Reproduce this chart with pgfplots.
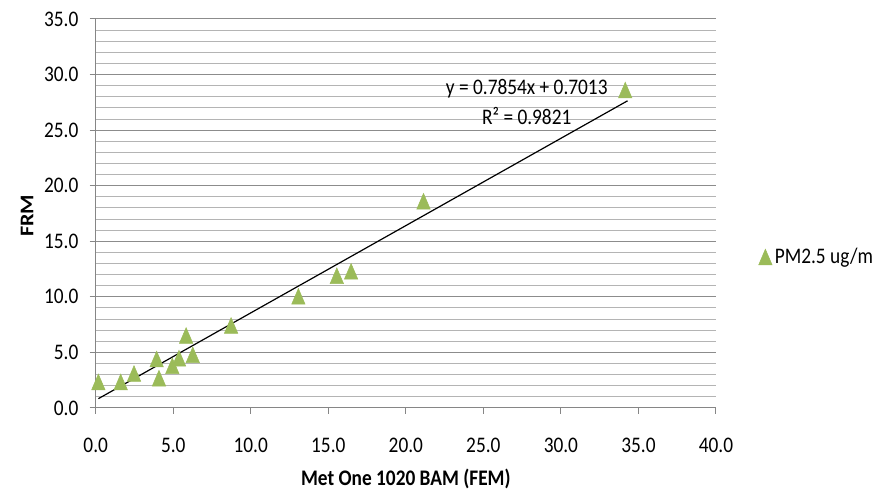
\documentclass[border=0pt]{standalone}
\usepackage{pgfplots}
\pgfplotsset{compat=1.18}
\usepackage{fontspec}
\setmainfont{Carlito}
\newcommand\cf{\fontsize{14.5pt}{17pt}\selectfont}
\definecolor{mkgreen}{RGB}{155,187,89}
\definecolor{majgrid}{RGB}{140,140,140}
\definecolor{mingrid}{RGB}{180,180,180}
\definecolor{axgray}{RGB}{134,134,134}
\begin{document}
\begin{tikzpicture}
\begin{axis}[
  at={(0,0)}, anchor=south west,
  scale only axis, width=465.2pt, height=291.75pt,
  xmin=0, xmax=40, ymin=0, ymax=35,
  xtick={0,5,...,40}, ytick={0,5,...,35},
  minor y tick num=4,
  ymajorgrids, yminorgrids,
  major grid style={draw=majgrid, line width=0.75pt},
  minor grid style={draw=mingrid, line width=0.75pt},
  axis x line=bottom, axis y line=left,
  axis line style={-, draw=axgray, line width=0.75pt},
  tick align=outside, major tick length=4.5pt, minor tick length=0pt,
  tick style={draw=axgray, line width=0.75pt},
  /pgf/number format/assume math mode=true,
  /pgf/number format/.cd, fixed, fixed zerofill, precision=1, /pgfplots/.cd,
  tick label style={font=\cf, yscale=1.15},
  xticklabel style={yshift=-12pt},
  yticklabel style={xshift=-5pt},
  xlabel={\textbf{Met One 1020 BAM (FEM)}},
  ylabel={\textbf{FRM}},
  xlabel style={font=\cf, yscale=1.15, at={(axis description cs:0.5,-0.183)}, anchor=center},
  ylabel style={font=\cf, xscale=1.15, at={(axis description cs:-0.1107,0.494)}, anchor=center},
  legend style={at={(axis description cs:1.0685,0.388)}, anchor=west, draw=none, fill=none, inner sep=0pt, font=\cf, nodes={yscale=1.15}},
  legend image code/.code={\draw[#1] plot coordinates {(0pt,0pt)};},
  clip=false,
]
\addplot[only marks, mark=triangle*, mark size=5.8pt, color=mkgreen,
  mark options={fill=mkgreen, draw=mkgreen, yshift=-1.96pt, yscale=1.35}]
  coordinates {
  (0.17,2.34) (1.61,2.34) (2.47,3.1) (3.93,4.4) (4.08,2.68) (4.94,3.79)
  (5.37,4.48) (5.83,6.52) (6.26,4.78) (8.73,7.42) (13.07,10.04)
  (15.55,11.9) (16.47,12.29) (21.14,18.6) (34.15,28.6)
  };
\addlegendentry{PM2.5 ug/m}
\addplot[black, line width=0.9pt, forget plot] coordinates {(0.17,0.835) (34.3,27.64)};
\node[font=\cf, yscale=1.15] at (axis cs:27.8,28.75) {y = 0.7854x + 0.7013};
\node[font=\cf, yscale=1.15] at (axis cs:27.8,26.27) {R² = 0.9821};
\end{axis}
\pgfresetboundingbox
\path[use as bounding box] (-71.8pt,-62.25pt) rectangle (599.5pt,306pt);
\end{tikzpicture}
\end{document}
